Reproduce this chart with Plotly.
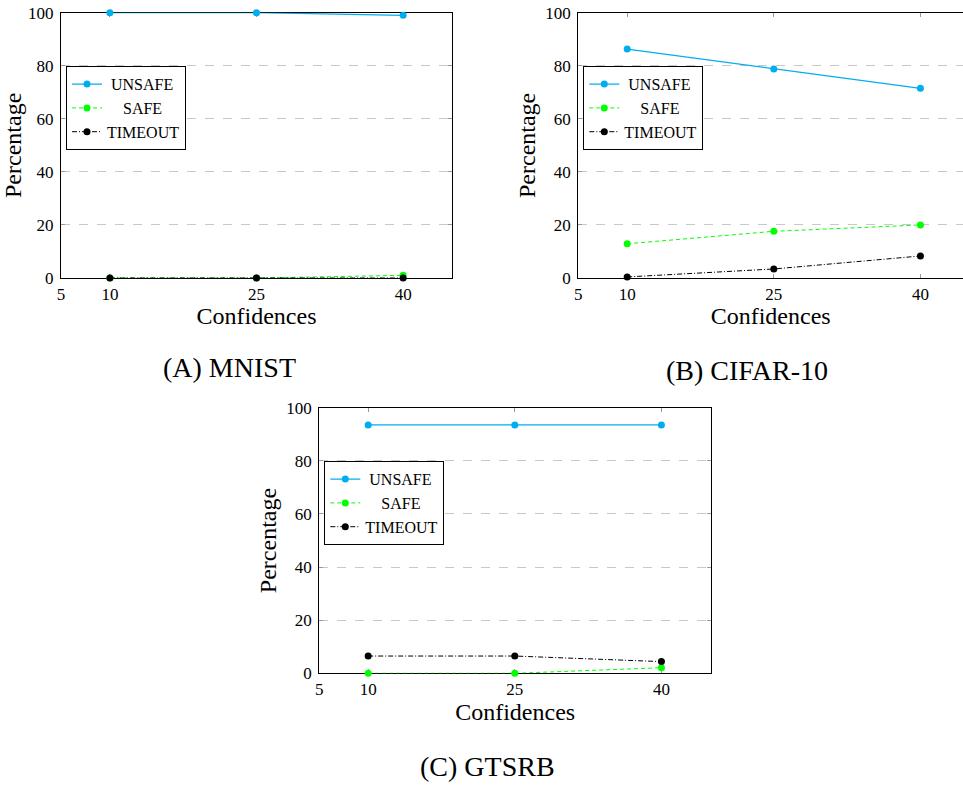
import plotly.graph_objects as go

confidences = [10, 25, 40]
series_names = ["UNSAFE", "SAFE", "TIMEOUT"]
legend_labels = ["\u00a0UNSAFE", "\u00a0\u00a0\u00a0\u00a0SAFE", "TIMEOUT"]

mnist_unsafe = [100, 100, 99]
mnist_safe = [0, 0, 1]
mnist_timeout = [0, 0, 0]

cifar_unsafe = [86.3, 78.8, 71.5]
cifar_safe = [12.9, 17.6, 20.0]
cifar_timeout = [0.4, 3.4, 8.3]

gtsrb_unsafe = [93.5, 93.5, 93.5]
gtsrb_safe = [0, 0, 2.1]
gtsrb_timeout = [6.5, 6.5, 4.4]

captions = ["(A) MNIST", "(B) CIFAR-10", "(C) GTSRB"]
x_ticks = [5, 10, 25, 40]
y_ticks = [0, 20, 40, 60, 80, 100]

FONT = "Liberation Serif"
W, H = 963, 785
colors = ["#00AEEF", "#00FF00", "#000000"]
dashes = ["solid", "4px,3px", "5px,2px,1px,2px"]
widths = [1.3, 1.0, 1.0]

panels = [
    (mnist_unsafe, mnist_safe, mnist_timeout),
    (cifar_unsafe, cifar_safe, cifar_timeout),
    (gtsrb_unsafe, gtsrb_safe, gtsrb_timeout),
]

# pixel boxes (left, right, top, bottom)
boxes = [
    (61, 452, 12.7, 278),
    (578.3, 963, 12.7, 278),
    (319.3, 711, 407.7, 673.3),
]
px_per_unit = (452 - 61) / 40.0

fig = go.Figure()
legend_keys = ["legend", "legend2", "legend3"]
for i, (vals, box) in enumerate(zip(panels, boxes)):
    ax = "" if i == 0 else str(i + 1)
    for j, (name, v) in enumerate(zip(legend_labels, vals)):
        fig.add_trace(go.Scatter(
            x=confidences, y=v, name=name, mode="lines+markers",
            xaxis="x" + ax, yaxis="y" + ax,
            line=dict(color=colors[j], dash=dashes[j], width=widths[j]),
            marker=dict(color=colors[j], size=7, symbol="circle"),
            cliponaxis=False, legend=legend_keys[i],
        ))
    l, r, t, b = box
    xmax = 5 + (r - l) / px_per_unit
    xa = dict(
        domain=[l / W, r / W], range=[5, xmax], tickvals=x_ticks,
        ticks="inside", ticklen=4, tickcolor="#999999", showline=True,
        linecolor="black", linewidth=1.2, mirror="ticks", showgrid=False,
        zeroline=False, anchor="y" + ax, layer="below traces", automargin=False,
        tickfont=dict(family=FONT, size=17, color="black"),
        title=dict(text="Confidences", font=dict(family=FONT, size=24, color="black"), standoff=0),
        ticklabelstandoff=0,
    )
    ya = dict(
        domain=[1 - b / H, 1 - t / H], range=[0, 100], tickvals=y_ticks,
        ticks="inside", ticklen=4, tickcolor="#999999", showline=True,
        linecolor="black", linewidth=1.2, mirror=("ticks" if i != 1 else False),
        showgrid=True, gridcolor="#c8c8c8", griddash="dash", gridwidth=1,
        zeroline=False, anchor="x" + ax, layer="below traces", automargin=False,
        tickfont=dict(family=FONT, size=17, color="black"),
        title=dict(text="Percentage", font=dict(family=FONT, size=24, color="black"), standoff=2),
        ticklabelstandoff=3,
    )
    fig.update_layout(**{"xaxis" + ax: xa, "yaxis" + ax: ya})
    fig.update_layout(**{legend_keys[i]: dict(
        x=(l + 5) / W, y=1 - (t + 53.5) / H, xanchor="left", yanchor="top",
        bgcolor="white", bordercolor="black", borderwidth=1,
        font=dict(family=FONT, size=16, color="black"),
        tracegroupgap=0, itemwidth=30,
    )})

caption_pos = [(229, 367), (747, 370), (487, 766)]
for cap, (cx, cy) in zip(captions, caption_pos):
    fig.add_annotation(text=cap, x=cx / W, y=1 - cy / H, xref="paper", yref="paper",
                       showarrow=False, xanchor="center", yanchor="middle",
                       font=dict(family=FONT, size=28, color="black"))

fig.update_layout(
    width=W, height=H, margin=dict(l=0, r=0, t=0, b=0),
    font=dict(family=FONT, color="black"),
    paper_bgcolor="white", plot_bgcolor="white", showlegend=True,
)
fig.write_html("out.html")
